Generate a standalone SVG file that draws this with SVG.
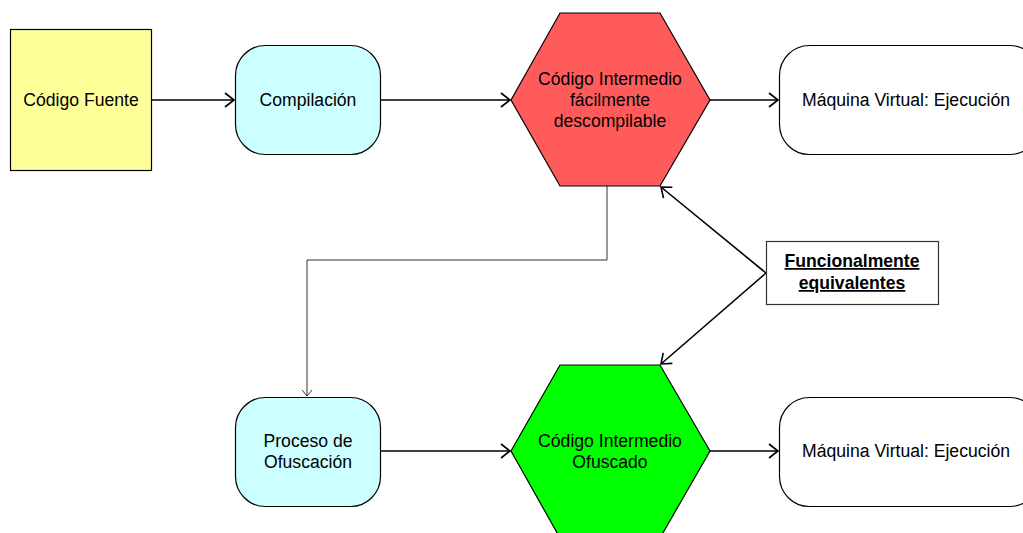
<svg xmlns="http://www.w3.org/2000/svg" width="1023" height="533" viewBox="0 0 1023 533">
<style>
text{font-family:"Liberation Sans",Arial,sans-serif;font-size:17.6px;fill:#000;text-anchor:middle}
.b{font-weight:bold;text-decoration:underline}
.shape{stroke:#000;stroke-width:1.2}
.conn{fill:none;stroke:#000;stroke-width:1.6}
.thin{fill:none;stroke:#333;stroke-width:1}
</style>
<defs>
<marker id="arr" markerUnits="userSpaceOnUse" viewBox="-11 -9 12 18" refX="0" refY="0" markerWidth="12" markerHeight="18" orient="auto">
<path d="M-9,-7 L0,0 L-9,7" fill="none" stroke="#000" stroke-width="1.6"/>
</marker>
<marker id="arrs" markerUnits="userSpaceOnUse" viewBox="-8 -7 9 14" refX="0" refY="0" markerWidth="9" markerHeight="14" orient="auto">
<path d="M-6,-5 L0,0 L-6,5" fill="none" stroke="#333" stroke-width="1"/>
</marker>
</defs>
<rect width="1023" height="533" fill="#fff"/>
<g id="connectors">
<line class="conn" x1="151" y1="100" x2="234" y2="100" marker-end="url(#arr)"/>
<line class="conn" x1="381" y1="100" x2="510" y2="100" marker-end="url(#arr)"/>
<line class="conn" x1="710" y1="100" x2="778" y2="100" marker-end="url(#arr)"/>
<polyline class="thin" points="607,186 607,260 307,260 307,396" marker-end="url(#arrs)"/>
<line class="conn" x1="381" y1="451" x2="510" y2="451" marker-end="url(#arr)"/>
<line class="conn" x1="710" y1="451" x2="778" y2="451" marker-end="url(#arr)"/>
<line class="conn" x1="766" y1="273" x2="661" y2="187" marker-end="url(#arr)"/>
<line class="conn" x1="766" y1="273" x2="661" y2="364" marker-end="url(#arr)"/>
</g>
<g id="codigo-fuente">
<rect class="shape" x="10.5" y="29.5" width="141" height="141" fill="#FFFF99"/>
<text x="81" y="106">Código Fuente</text>
</g>
<g id="compilacion">
<rect class="shape" x="235.5" y="45.5" width="145" height="109" rx="30" ry="30" fill="#CCFFFF"/>
<text x="308" y="106">Compilación</text>
</g>
<g id="codigo-intermedio">
<polygon class="shape" points="560,13 660,13 710,100 660,186 560,186 511,100" fill="#FF5B5B"/>
<text x="610" y="85">Código Intermedio</text>
<text x="610" y="106">fácilmente</text>
<text x="610" y="127">descompilable</text>
</g>
<g id="maquina-virtual-1">
<rect class="shape" x="779.5" y="45.5" width="260" height="109" rx="30" ry="30" fill="#fff"/>
<text x="906" y="106">Máquina Virtual: Ejecución</text>
</g>
<g id="funcionalmente">
<rect x="766.5" y="241.5" width="172" height="63" fill="#fff" stroke="#333" stroke-width="1.2"/>
<text class="b" x="852" y="267">Funcionalmente</text>
<text class="b" x="852" y="289">equivalentes</text>
</g>
<g id="proceso-ofuscacion">
<rect class="shape" x="235.5" y="397.5" width="145" height="109" rx="30" ry="30" fill="#CCFFFF"/>
<text x="308" y="447">Proceso de</text>
<text x="308" y="468">Ofuscación</text>
</g>
<g id="codigo-ofuscado">
<polygon class="shape" points="560,365 660,365 710,451 660,538 560,538 511,451" fill="#00FF00"/>
<text x="610" y="447">Código Intermedio</text>
<text x="610" y="468">Ofuscado</text>
</g>
<g id="maquina-virtual-2">
<rect class="shape" x="779.5" y="397.5" width="260" height="109" rx="30" ry="30" fill="#fff"/>
<text x="906" y="457">Máquina Virtual: Ejecución</text>
</g>
</svg>
